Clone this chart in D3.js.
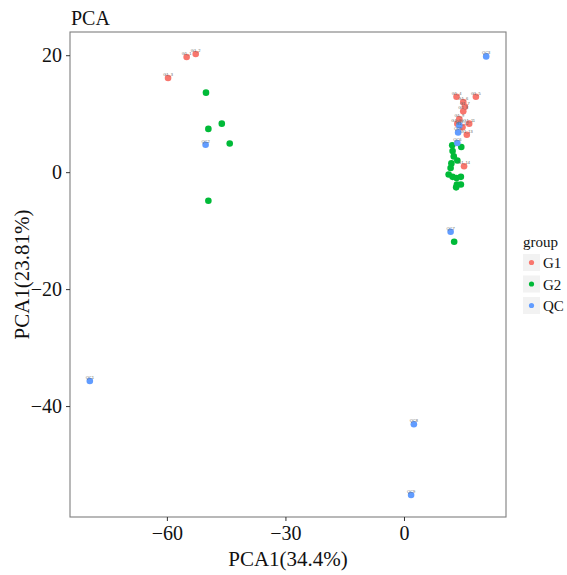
<!DOCTYPE html>
<html>
<head>
<meta charset="utf-8">
<script src="https://cdn.jsdelivr.net/npm/d3@7"></script>
<style>
  body { margin: 0; background: #fff; }
  svg { font-family: "Liberation Serif", "DejaVu Serif", serif; }
</style>
</head>
<body>
<svg id="viz"></svg>
<script>
const width = 567, height = 575;

// data
const groups = ["G1", "G2", "QC"];
const colors = ["#F8766D", "#00BA38", "#619CFF"];

const g1X = [-55.0, -52.7, -59.7, 13.3, 18.2, 15.0, 15.4, 15.0, 14.0, 13.5, 16.5, 14.8, 15.9, 15.2];
const g1Y = [19.7, 20.2, 16.1, 12.9, 12.9, 12.0, 11.2, 10.4, 9.1, 8.3, 8.3, 7.7, 6.4, 1.0];

const g2X = [-50.1, -46.1, -49.5, -44.1, -49.5, 12.2, 14.5, 12.3, 12.6, 13.5, 12.0, 11.8, 11.3, 12.3, 13.3, 14.4, 13.4, 14.4, 13.2, 12.7];
const g2Y = [13.6, 8.3, 7.4, 4.9, -4.9, 4.6, 4.3, 3.6, 2.7, 2.0, 1.5, 0.7, -0.4, -0.8, -1.0, -0.8, -2.1, -2.1, -2.6, -11.9];

const qcX = [-79.5, -50.2, 20.8, 14.0, 13.7, 13.5, 11.8, 2.5, 1.8];
const qcY = [-35.7, 4.7, 19.8, 8.0, 6.8, 5.0, -10.2, -43.1, -55.2];

const xTicks = [-60, -30, 0];
const yTicks = [20, 0, -20, -40];

const points = [];
g1X.forEach((x, i) => points.push({ group: "G1", x: x, y: g1Y[i], label: "G1_" + (i + 1) }));
g2X.forEach((x, i) => points.push({ group: "G2", x: x, y: g2Y[i], label: "" }));
qcX.forEach((x, i) => points.push({ group: "QC", x: x, y: qcY[i], label: "QC" + (i + 1) }));

const panel = { left: 70, right: 506, top: 32, bottom: 517 };

const svg = d3.select("#viz").attr("width", width).attr("height", height);

// ggplot style 5% expansion
function expand(ext) {
  const pad = (ext[1] - ext[0]) * 0.05;
  return [ext[0] - pad, ext[1] + pad];
}

const x = d3.scaleLinear()
  .domain(expand(d3.extent(points, d => d.x)))
  .range([panel.left, panel.right]);
const y = d3.scaleLinear()
  .domain(expand(d3.extent(points, d => d.y)))
  .range([panel.bottom, panel.top]);
const color = d3.scaleOrdinal().domain(groups).range(colors);

// panel border
svg.append("rect")
  .attr("x", panel.left).attr("y", panel.top)
  .attr("width", panel.right - panel.left)
  .attr("height", panel.bottom - panel.top)
  .attr("fill", "none")
  .attr("stroke", "#7f7f7f")
  .attr("stroke-width", 1.1);

// axes
const minus = d => d < 0 ? "\u2212" + Math.abs(d) : d;
const xAxis = svg.append("g")
  .attr("transform", `translate(0,${panel.bottom})`)
  .call(d3.axisBottom(x).tickValues(xTicks).tickSize(4).tickPadding(5).tickFormat(minus));
const yAxis = svg.append("g")
  .attr("transform", `translate(${panel.left},0)`)
  .call(d3.axisLeft(y).tickValues(yTicks).tickSize(4).tickPadding(4).tickFormat(minus));

[xAxis, yAxis].forEach(a => {
  a.select(".domain").remove();
  a.selectAll(".tick line").attr("stroke", "#333");
  a.selectAll(".tick text")
    .attr("fill", "#111")
    .style("font-size", "20px")
    .style("font-family", "Liberation Serif, serif");
});

// points
svg.append("g")
  .selectAll("circle")
  .data(points)
  .enter()
  .append("circle")
  .attr("cx", d => x(d.x))
  .attr("cy", d => y(d.y))
  .attr("r", 3.3)
  .attr("fill", d => color(d.group));

// tiny sample labels
svg.append("g")
  .selectAll("text")
  .data(points.filter(d => d.label))
  .enter()
  .append("text")
  .attr("x", d => x(d.x))
  .attr("y", d => y(d.y) - 2)
  .attr("text-anchor", "middle")
  .attr("fill", "#666")
  .style("font-size", "4px")
  .style("font-family", "Liberation Sans, sans-serif")
  .text(d => d.label);

// titles
svg.append("text")
  .attr("x", panel.left + 1)
  .attr("y", 25)
  .style("font-size", "20px")
  .attr("fill", "#111")
  .text("PCA");

svg.append("text")
  .attr("x", (panel.left + panel.right) / 2)
  .attr("y", 566)
  .attr("text-anchor", "middle")
  .style("font-size", "21px")
  .attr("fill", "#111")
  .text("PCA1(34.4%)");

svg.append("text")
  .attr("transform", `translate(29,${(panel.top + panel.bottom) / 2}) rotate(-90)`)
  .attr("text-anchor", "middle")
  .style("font-size", "21px")
  .attr("fill", "#111")
  .text("PCA1(23.81%)");

// legend
const legend = svg.append("g").attr("transform", "translate(523,0)");
legend.append("text")
  .attr("x", 0).attr("y", 247)
  .style("font-size", "15px")
  .attr("fill", "#111")
  .text("group");

const keys = legend.selectAll("g.key")
  .data(groups)
  .enter()
  .append("g")
  .attr("class", "key")
  .attr("transform", (d, i) => `translate(0,${254 + i * 21.5})`);
keys.append("rect")
  .attr("width", 17).attr("height", 17)
  .attr("fill", "#f2f2f2");
keys.append("circle")
  .attr("cx", 8.5).attr("cy", 8.5).attr("r", 2.6)
  .attr("fill", d => color(d));
keys.append("text")
  .attr("x", 20).attr("y", 14)
  .style("font-size", "15px")
  .attr("fill", "#111")
  .text(d => d);
</script>
</body>
</html>
